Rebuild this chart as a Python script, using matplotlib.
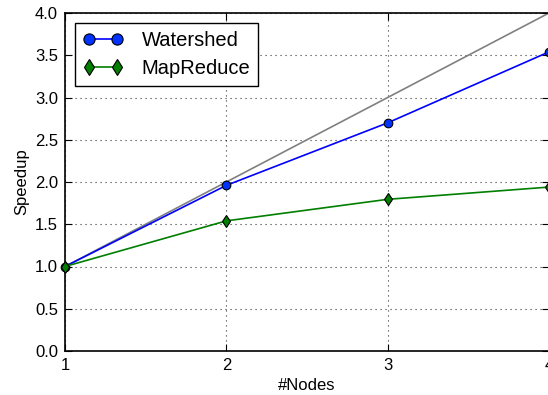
import matplotlib
matplotlib.use("Agg")
import matplotlib.pyplot as plt

plt.rcParams['font.family'] = ['Liberation Sans', 'DejaVu Sans']

nodes = [1, 2, 3, 4]
ideal = [1, 2, 3, 4]
watershed = [1.0, 1.96, 2.70, 3.54]
mapreduce = [1.0, 1.54, 1.795, 1.94]
yticks = [0.0, 0.5, 1.0, 1.5, 2.0, 2.5, 3.0, 3.5, 4.0]

fig = plt.figure(figsize=(5.48, 3.95), dpi=100)
ax = fig.add_axes([65/548, 44/395, 484/548, 338/395])

ax.plot(nodes, ideal, color='gray', lw=1.2, zorder=2)
ax.plot(nodes, watershed, color='#0000ff', lw=1.2, marker='o', ms=6.2,
        mfc='#0033ff', mec='black', mew=0.8, label='Watershed', zorder=3, clip_on=False)
ax.plot(nodes, mapreduce, color='#007f00', lw=1.2, marker='d', ms=6.5,
        mfc='#007f00', mec='black', mew=0.8, label='MapReduce', zorder=3, clip_on=False)

ax.set_xlim(1, 4)
ax.set_ylim(0, 4)
ax.set_xticks(nodes)
ax.set_xticklabels(['1', '2', '3', '4'])
ax.set_yticks(yticks)
ax.set_yticklabels([f'{v:.1f}' for v in yticks])
ax.tick_params(direction='in', length=5, labelsize=12, width=0.8, top=True, right=True, pad=5)
ax.grid(True, linestyle=(0, (1, 3.5)), color='black', lw=0.8, alpha=0.8)
for s in ax.spines.values():
    s.set_linewidth(1.2)

ax.set_xlabel('#Nodes', fontsize=12)
ax.set_ylabel('Speedup', fontsize=12)

leg = ax.legend(loc='upper left', fontsize=14.5, fancybox=False, edgecolor='black',
                framealpha=1, borderpad=0.4, handlelength=2.0, handletextpad=0.9,
                numpoints=2, markerscale=1.3, labelspacing=0.42, borderaxespad=0.5)
leg.get_frame().set_linewidth(1.0)

fig.savefig('out.png', dpi=100)
